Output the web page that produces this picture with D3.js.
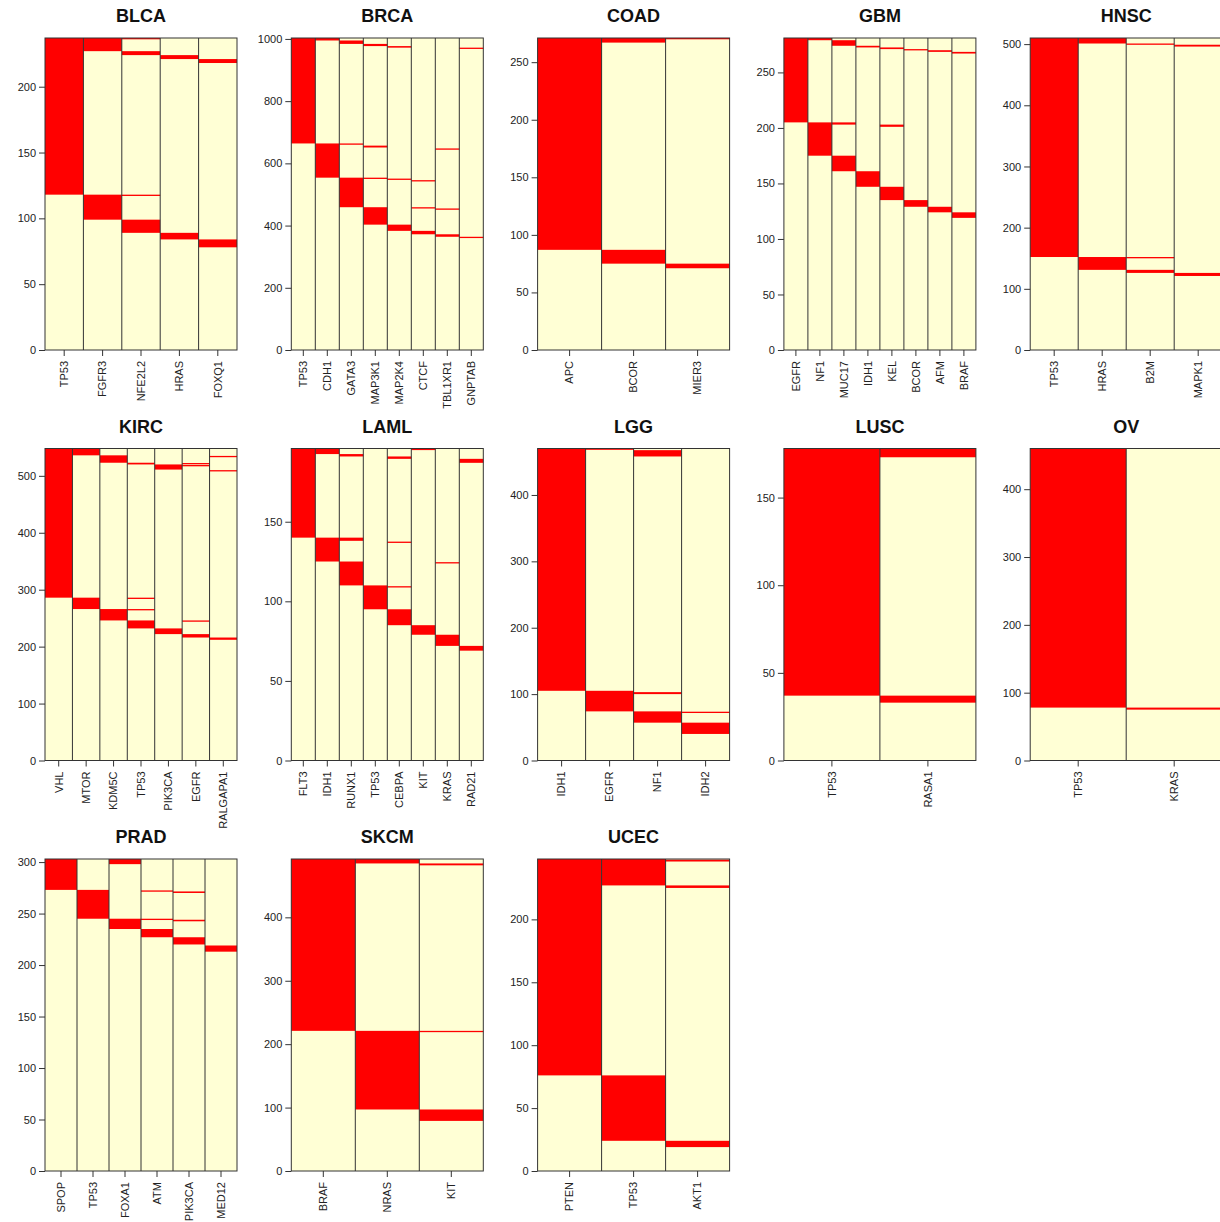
<!DOCTYPE html>
<html>
<head>
<meta charset="utf-8">
<script src="https://cdnjs.cloudflare.com/ajax/libs/d3/7.8.5/d3.min.js"></script>
<style>
  body { margin: 0; background: #fff; }
  svg { display: block; font-family: "Liberation Sans", Arial, sans-serif; }
</style>
</head>
<body>
<div id="chart"></div>
<script>
// cancer types, one panel each
var cancerTypes = ["BLCA", "BRCA", "COAD", "GBM", "HNSC",
                   "KIRC", "LAML", "LGG", "LUSC", "OV",
                   "PRAD", "SKCM", "UCEC"];

// number of samples in each cohort
var sampleTotals = [237, 1003, 271, 281, 510, 548, 196, 470, 178, 460, 303, 492, 248];

var geneLists = [
  ["TP53", "FGFR3", "NFE2L2", "HRAS", "FOXQ1"],
  ["TP53", "CDH1", "GATA3", "MAP3K1", "MAP2K4", "CTCF", "TBL1XR1", "GNPTAB"],
  ["APC", "BCOR", "MIER3"],
  ["EGFR", "NF1", "MUC17", "IDH1", "KEL", "BCOR", "AFM", "BRAF"],
  ["TP53", "HRAS", "B2M", "MAPK1"],
  ["VHL", "MTOR", "KDM5C", "TP53", "PIK3CA", "EGFR", "RALGAPA1"],
  ["FLT3", "IDH1", "RUNX1", "TP53", "CEBPA", "KIT", "KRAS", "RAD21"],
  ["IDH1", "EGFR", "NF1", "IDH2"],
  ["TP53", "RASA1"],
  ["TP53", "KRAS"],
  ["SPOP", "TP53", "FOXA1", "ATM", "PIK3CA", "MED12"],
  ["BRAF", "NRAS", "KIT"],
  ["PTEN", "TP53", "AKT1"]
];

// mutated sample ranges [from, to] per gene (sample index, sorted cascade)
var mutatedRanges = [
  [ [[118, 237]],
    [[227, 237], [99, 118]],
    [[236, 237], [224, 227], [117, 118], [89, 99]],
    [[221, 224], [84, 89]],
    [[218, 221], [78, 84]] ],
  [ [[664, 1003]],
    [[995, 1003], [554, 664]],
    [[984, 995], [661, 664], [459, 554]],
    [[977, 984], [651, 657], [551, 554], [403, 459]],
    [[972, 977], [547, 551], [383, 403]],
    [[542, 546], [455, 459], [372, 383]],
    [[645, 648], [452, 455], [364, 372]],
    [[969, 972], [360, 364]] ],
  [ [[87, 271]],
    [[267, 271], [75, 87]],
    [[270, 271], [71, 75]] ],
  [ [[205, 281]],
    [[279, 281], [175, 205]],
    [[274, 279], [203, 205], [161, 175]],
    [[272.5, 274], [147, 161]],
    [[271, 272.5], [201, 203], [135, 147]],
    [[270, 271], [129, 135]],
    [[268.5, 270], [124, 129]],
    [[267, 268.5], [119, 124]] ],
  [ [[152, 510]],
    [[501, 510], [131, 152]],
    [[499.5, 501], [150, 152], [126, 131]],
    [[496, 499], [121, 126]] ],
  [ [[286, 548]],
    [[536, 548], [266, 286]],
    [[523, 536], [246, 266]],
    [[520, 523], [284, 286], [264, 266], [232, 246]],
    [[511, 520], [222, 232]],
    [[521, 522.5], [517, 519], [244, 246], [216, 222]],
    [[533, 535], [508, 510], [212, 216]] ],
  [ [[140, 196]],
    [[192.5, 196], [125, 140]],
    [[191, 192.5], [138, 140], [110, 125]],
    [[95, 110]],
    [[189.5, 191], [137, 137.5], [109, 109.5], [85, 95]],
    [[195, 196], [79, 85]],
    [[124, 124.6], [72, 79]],
    [[187, 189.5], [69, 72]] ],
  [ [[105, 470]],
    [[468, 470], [74, 105]],
    [[458, 467.5], [100, 103], [57, 74]],
    [[72, 73.5], [40, 57]] ],
  [ [[37, 178]],
    [[173, 178], [33, 37]] ],
  [ [[78, 460]],
    [[75, 78]] ],
  [ [[273, 303]],
    [[245, 273]],
    [[298, 303], [235, 245]],
    [[271.5, 272.5], [244, 245], [227, 235]],
    [[270, 271.5], [242.5, 244], [220, 227]],
    [[213, 219]] ],
  [ [[221, 492]],
    [[485, 492], [97, 221]],
    [[482, 485], [219.5, 221], [79, 97]] ],
  [ [[76, 248]],
    [[227, 248], [24, 76]],
    [[246, 247.5], [225, 227], [19, 24]] ]
];

var width = 1220, height = 1222;
var plotW = 192, plotH = 312;
var colStep = 246.3, rowStep = 410.5;
var left0 = 45, top0 = 38;

var cream = "#ffffd5";
var red = "#ff0000";
var frame = "#333333";

var svg = d3.select("#chart")
  .append("svg")
  .attr("width", width)
  .attr("height", height);

cancerTypes.forEach(function(name, p) {
  var col = p % 5, row = Math.floor(p / 5);
  var x0 = left0 + col * colStep;
  var y0 = top0 + row * rowStep;
  var genes = geneLists[p];

  var g = svg.append("g")
    .attr("transform", "translate(" + x0 + "," + y0 + ")");

  var x = d3.scaleBand()
    .domain(genes)
    .range([0, plotW])
    .padding(0);

  var y = d3.scaleLinear()
    .domain([0, sampleTotals[p]])
    .range([plotH, 0]);

  // title
  g.append("text")
    .attr("x", plotW / 2)
    .attr("y", -16)
    .attr("text-anchor", "middle")
    .attr("font-size", "18px")
    .attr("font-weight", "bold")
    .attr("fill", "#111")
    .text(name);

  // background column per gene
  g.selectAll(".bg")
    .data(genes)
    .enter()
    .append("rect")
    .attr("class", "bg")
    .attr("x", function(d) { return x(d); })
    .attr("y", y(sampleTotals[p]))
    .attr("width", x.bandwidth())
    .attr("height", plotH)
    .attr("fill", cream);

  // mutated segments
  genes.forEach(function(gene, i) {
    g.selectAll(".m" + i)
      .data(mutatedRanges[p][i])
      .enter()
      .append("rect")
      .attr("x", x(gene))
      .attr("y", function(d) { return y(d[1]); })
      .attr("width", x.bandwidth())
      .attr("height", function(d) { return Math.max(y(d[0]) - y(d[1]), 1.3); })
      .attr("fill", red);
  });

  // column borders
  g.selectAll(".sep")
    .data(genes.slice(1))
    .enter()
    .append("line")
    .attr("x1", function(d) { return x(d); })
    .attr("x2", function(d) { return x(d); })
    .attr("y1", 0)
    .attr("y2", plotH)
    .attr("stroke", frame)
    .attr("stroke-width", 1);

  g.append("rect")
    .attr("x", 0)
    .attr("y", 0)
    .attr("width", plotW)
    .attr("height", plotH)
    .attr("fill", "none")
    .attr("stroke", frame)
    .attr("stroke-width", 1);

  // y axis
  var yAxis = g.append("g")
    .call(d3.axisLeft(y).ticks(5).tickFormat(d3.format("d"))
      .tickSize(6).tickPadding(3).tickSizeOuter(0));
  yAxis.select(".domain").remove();
  yAxis.selectAll("line").attr("stroke", frame);
  yAxis.selectAll("text")
    .attr("font-size", "11px")
    .attr("fill", "#222");

  // x axis
  var xAxis = g.append("g")
    .attr("transform", "translate(0," + plotH + ")")
    .call(d3.axisBottom(x).tickSize(6).tickSizeOuter(0));
  xAxis.select(".domain").remove();
  xAxis.selectAll("line").attr("stroke", frame);
  xAxis.selectAll("text")
    .attr("font-size", "11px")
    .attr("fill", "#222")
    .attr("text-anchor", "end")
    .attr("transform", "rotate(-90)")
    .attr("x", -11)
    .attr("y", 0)
    .attr("dy", "0.35em");
});
</script>
</body>
</html>
